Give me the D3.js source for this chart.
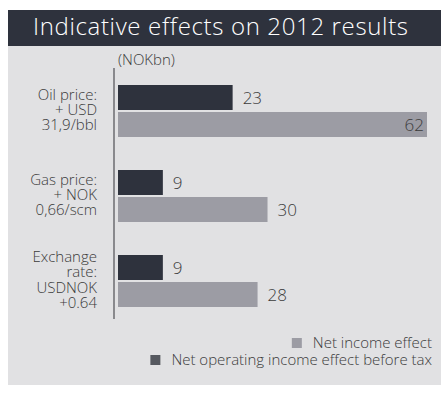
<!DOCTYPE html>
<html>
<head>
<meta charset="utf-8">
<script src="https://cdn.jsdelivr.net/npm/d3@7"></script>
<style>
  html, body { margin: 0; padding: 0; background: #ffffff; }
  svg { display: block; }
  text { font-family: "Open Sans", sans-serif; }
</style>
</head>
<body>
<svg id="chart" width="441" height="394"></svg>
<script>
// Sensitivities of the 2012 result (NOKbn)
const categories = ["oil", "gas", "fx"];
const categoryLabels = [
  ["Oil price:", "+ USD", "31,9/bbl"],
  ["Gas price:", "+ NOK", "0,66/scm"],
  ["Exchange", "rate:", "USDNOK", "+0.64"]
];
const operatingIncome = [23, 9, 9];   // Net operating income effect before tax
const netIncome = [62, 30, 28];       // Net income effect
const seriesKeys = ["operating", "net"];
const seriesNames = ["Net operating income effect before tax", "Net income effect"];
const titleText = "Indicative effects on 2012 results";
const unitText = "(NOKbn)";

const colors = { operating: "#2e323d", net: "#9c9ca4" };
const legendColors = { operating: "#55585f", net: "#9c9ca4" };

const svg = d3.select("#chart");

// panel background and title bar
svg.append("rect").attr("x", 8).attr("y", 10).attr("width", 433).attr("height", 375)
  .attr("fill", "#e1e1e3");
svg.append("rect").attr("x", 8).attr("y", 10).attr("width", 433).attr("height", 36)
  .attr("fill", "#2e323d");
svg.append("text").attr("x", 33).attr("y", 35)
  .attr("fill", "#ffffff").attr("font-size", 24).attr("font-weight", 300)
  .attr("letter-spacing", 0.65)
  .text(titleText);

const rows = categories.map((c, i) => ({
  key: c, lines: categoryLabels[i],
  values: [
    { key: "operating", value: operatingIncome[i] },
    { key: "net", value: netIncome[i] }
  ]
}));

const x = d3.scaleLinear().domain([0, 62]).range([118, 427]);
const y = d3.scaleBand().domain(categories).range([85, 307]).paddingInner(33 / 85);
const y1 = d3.scaleBand().domain(seriesKeys).range([0, y.bandwidth()]).paddingInner(2 / 27);

// unit label
svg.append("text").attr("x", 118).attr("y", 65)
  .attr("fill", "#3b3b3b").attr("font-size", 15).attr("font-weight", 300)
  .text(unitText);

// vertical axis line
svg.append("line").attr("x1", 114).attr("x2", 114).attr("y1", 68).attr("y2", 319)
  .attr("stroke", "#6b6b70").attr("stroke-width", 1.5);

const g = svg.selectAll("g.row").data(rows).join("g")
  .attr("class", "row")
  .attr("transform", d => `translate(0,${y(d.key)})`);

// category labels: one text per category, a tspan per line, right aligned
const lineStep = 15.3;
g.append("text")
  .attr("class", "cat")
  .attr("text-anchor", "end")
  .attr("fill", "#3b3b3b").attr("font-size", 15).attr("font-weight", 300)
  .each(function (d) {
    const n = d.lines.length;
    const y0 = y.bandwidth() / 2 + 4 - (n - 1) / 2 * lineStep;
    d3.select(this).selectAll("tspan").data(d.lines).join("tspan")
      .attr("x", 97)
      .attr("y", (t, i) => y0 + i * lineStep)
      .text(t => t);
  });

// bars
g.selectAll("rect.bar").data(d => d.values).join("rect")
  .attr("class", "bar")
  .attr("x", x(0))
  .attr("y", d => y1(d.key))
  .attr("width", d => x(d.value) - x(0))
  .attr("height", y1.bandwidth())
  .attr("fill", d => colors[d.key]);

// value labels: outside the bar, or inside at the end for the widest bar
const maxVal = d3.max(netIncome);
g.selectAll("text.val").data(d => d.values).join("text")
  .attr("class", "val")
  .attr("x", d => d.value === maxVal ? x(d.value) - 3 : x(d.value) + 10)
  .attr("y", d => y1(d.key) + y1.bandwidth() / 2 + 6)
  .attr("text-anchor", d => d.value === maxVal ? "end" : "start")
  .attr("fill", "#3b3b3b").attr("font-size", 17).attr("font-weight", 300)
  .text(d => d.value);

// legend
const legendItems = [
  { key: "net", name: seriesNames[1], y: 343 },
  { key: "operating", name: seriesNames[0], y: 360 }
];
const lg = svg.selectAll("g.legend").data(legendItems).join("g")
  .attr("class", "legend");
lg.append("text")
  .attr("x", 432).attr("y", d => d.y + 5)
  .attr("text-anchor", "end")
  .attr("fill", "#3b3b3b").attr("font-size", 15).attr("font-weight", 300)
  .text(d => d.name);
lg.each(function (d) {
  const w = d3.select(this).select("text").node().getComputedTextLength();
  d3.select(this).append("rect")
    .attr("x", 432 - w - 21).attr("y", d.y - 5)
    .attr("width", 10).attr("height", 10)
    .attr("fill", legendColors[d.key]);
});
</script>
</body>
</html>
